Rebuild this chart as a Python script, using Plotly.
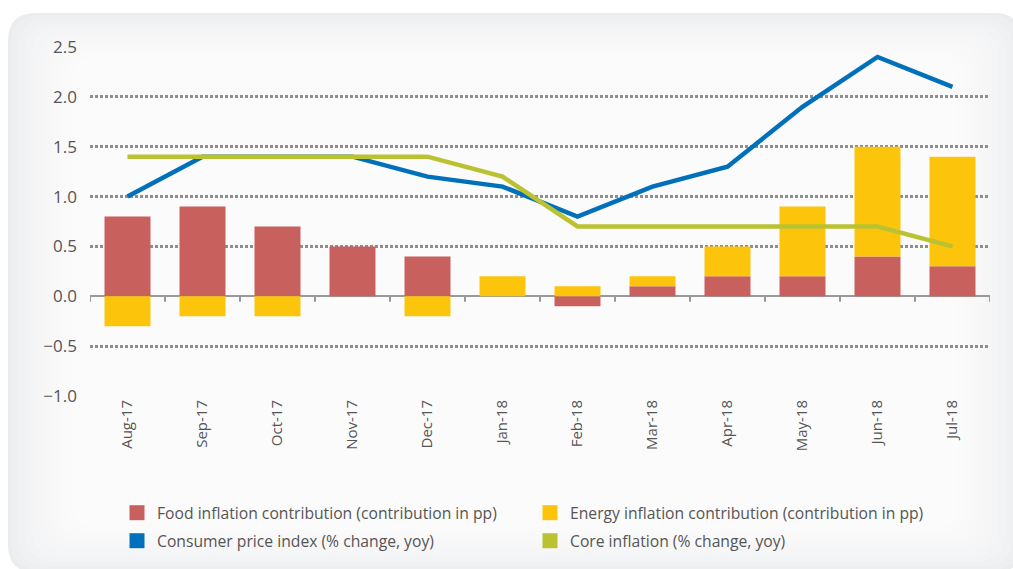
import plotly.graph_objects as go

months = ["Aug-17", "Sep-17", "Oct-17", "Nov-17", "Dec-17", "Jan-18",
          "Feb-18", "Mar-18", "Apr-18", "May-18", "Jun-18", "Jul-18"]
food = [0.8, 0.9, 0.7, 0.5, 0.4, 0.0, -0.1, 0.1, 0.2, 0.2, 0.4, 0.3]
energy = [-0.3, -0.2, -0.2, 0.0, -0.2, 0.2, 0.1, 0.1, 0.3, 0.7, 1.1, 1.1]
cpi = [1.0, 1.4, 1.4, 1.4, 1.2, 1.1, 0.8, 1.1, 1.3, 1.9, 2.4, 2.1]
core = [1.4, 1.4, 1.4, 1.4, 1.4, 1.2, 0.7, 0.7, 0.7, 0.7, 0.7, 0.5]
y_ticks = [-1.0, -0.5, 0.0, 0.5, 1.0, 1.5, 2.0, 2.5]

names = ["Food inflation contribution (contribution in pp)",
         "Energy inflation contribution (contribution in pp)",
         "Consumer price index (% change, yoy)",
         "Core inflation (% change, yoy)"]
colors = ["#C8605E", "#FCC50C", "#0070BA", "#BBC232"]

W, H = 1013, 569
ML, MR, MT, MB = 90, 23, 47, 172
PW, PH = W - ML - MR, H - MT - MB

def px2paper(x, y):
    return (x - ML) / PW, (H - MB - y) / PH

def rrect(x0, y0, x1, y1, r):
    def p(x, y):
        a, b = px2paper(x, y)
        return f"{a:.5f},{b:.5f}"
    d = "M " + p(x0 + r, y0)
    d += " L " + p(x1 - r, y0) + " Q " + p(x1, y0) + " " + p(x1, y0 + r)
    d += " L " + p(x1, y1 - r) + " Q " + p(x1, y1) + " " + p(x1 - r, y1)
    d += " L " + p(x0 + r, y1) + " Q " + p(x0, y1) + " " + p(x0, y1 - r)
    d += " L " + p(x0, y0 + r) + " Q " + p(x0, y0) + " " + p(x0 + r, y0) + " Z"
    return d

fig = go.Figure()
fig.add_trace(go.Bar(x=months, y=food, name=names[0], marker_color=colors[0],
                     marker_line_width=0, showlegend=False))
fig.add_trace(go.Bar(x=months, y=energy, name=names[1], marker_color=colors[1],
                     marker_line_width=0, showlegend=False))
fig.add_trace(go.Scatter(x=months, y=cpi, name=names[2], mode="lines",
                         line=dict(color=colors[2], width=4.5), showlegend=False))
fig.add_trace(go.Scatter(x=months, y=core, name=names[3], mode="lines",
                         line=dict(color=colors[3], width=4.5), showlegend=False))
# legend entries with square symbols (two rows -> two legends)
for i, (n, c) in enumerate(zip(names, colors)):
    fig.add_trace(go.Scatter(x=[None], y=[None], mode="markers", name=n,
                             legend="legend" if i < 2 else "legend2",
                             marker=dict(symbol="square", size=15, color=c)))

shapes = []
shapes.append(dict(type="path", xref="paper", yref="paper", layer="below",
                   path=rrect(8, 13, 1022, 574, 28), fillcolor="#eaecee",
                   line=dict(width=0)))
steps = 30
for i in range(steps):
    inset = 2 + i * 4.5
    shapes.append(dict(type="path", xref="paper", yref="paper", layer="below",
                       path=rrect(8 + inset * 1.5, 13 + inset, 1022 - inset * 1.5, 574 - inset, 30),
                       fillcolor="white", opacity=0.17, line=dict(width=0)))
for i in range(len(months) + 1):
    shapes.append(dict(type="line", xref="x", yref="y", x0=i - 0.5, x1=i - 0.5,
                       y0=0, y1=-0.055, line=dict(color="#999999", width=2)))

leg_common = dict(orientation="h", xanchor="left", yanchor="middle",
                  entrywidth=368, font=dict(size=15.7, color="#555555"),
                  bgcolor="rgba(0,0,0,0)", itemsizing="trace")

fig.update_layout(
    width=W, height=H,
    margin=dict(l=ML, r=MR, t=MT, b=MB),
    paper_bgcolor="white", plot_bgcolor="rgba(0,0,0,0)",
    barmode="relative", bargap=0.387,
    font=dict(family="Open Sans", color="#555555"),
    shapes=shapes,
    legend=dict(x=0.03, y=px2paper(0, 513)[1], **leg_common),
    legend2=dict(x=0.03, y=px2paper(0, 541)[1], **leg_common),
)
fig.update_xaxes(type="category", showgrid=False, showline=False, ticks="",
                 tickangle=-90, tickfont=dict(size=15, color="#555555"),
                 range=[-0.5, len(months) - 0.5])
fig.update_yaxes(range=[-1.0, 2.5], tickvals=y_ticks, tickformat=".1f",
                 showgrid=True, gridcolor="#8e8e8e", gridwidth=2.5, griddash="3px,2px",
                 zeroline=True, zerolinecolor="#999999", zerolinewidth=2,
                 showline=False, ticks="", ticklabelstandoff=12,
                 tickfont=dict(size=17, color="#555555"))

fig.write_html("out.html", config={"displayModeBar": False},
               post_script="document.body.style.margin='0px';")
